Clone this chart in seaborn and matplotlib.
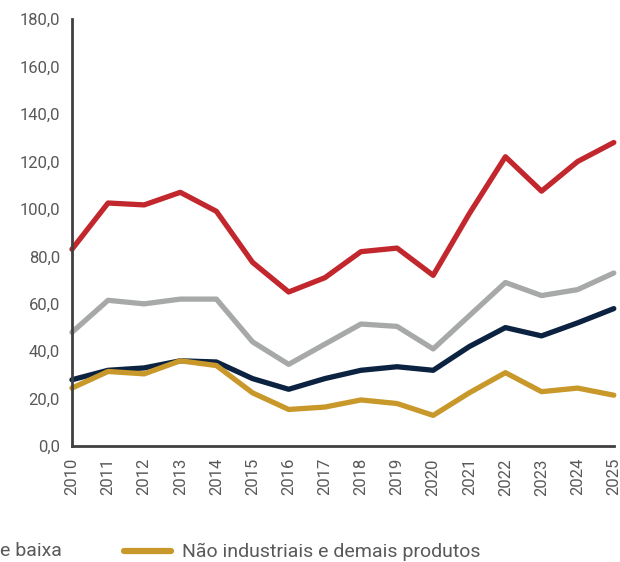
"""
Recreate the export-index line chart (2010-2025) with seaborn.
"""

import matplotlib
matplotlib.use("Agg")
import matplotlib.pyplot as plt
from matplotlib.lines import Line2D
from matplotlib.ticker import FuncFormatter
import pandas as pd
import seaborn as sns

years = list(range(2010, 2026))

serie_vermelha = [83, 102.5, 101.7, 107, 99, 77.5, 65, 71, 82, 83.5, 72, 98, 122, 107.5, 120, 128]
serie_cinza = [48, 61.5, 60, 62, 62, 44, 34.5, 43, 51.5, 50.5, 41, 55, 69, 63.5, 66, 73]
serie_azul = [28, 32, 33, 36, 35.5, 28.5, 24, 28.5, 32, 33.5, 32, 42, 50, 46.5, 52, 58]
serie_dourada = [24.5, 31.5, 30.5, 36, 34, 22.5, 15.5, 16.5, 19.5, 18, 13, 22.5, 31, 23, 24.5, 21.5]

series_names = ["vermelha", "cinza", "azul", "Não industriais e demais produtos"]
colors = ["#C1272D", "#A7A9A9", "#0B2341", "#C9982B"]

frames = []
for name, vals in zip(series_names, [serie_vermelha, serie_cinza, serie_azul, serie_dourada]):
    frames.append(pd.DataFrame({"ano": years, "valor": vals, "serie": name}))
df = pd.concat(frames, ignore_index=True)

sns.set_style("white")
plt.rcParams["font.family"] = ["Roboto", "DejaVu Sans"]

text_color = "#595959"
axis_color = "#404040"

fig = plt.figure(figsize=(6.2, 5.62), dpi=100)
ax = fig.add_axes([0.116, 0.206, 0.874, 0.760])

sns.lineplot(
    data=df, x="ano", y="valor", hue="serie", hue_order=series_names,
    palette=colors, linewidth=3.8, legend=False, ax=ax,
)
for line in ax.lines:
    line.set_solid_capstyle("round")
    line.set_solid_joinstyle("round")
    line.set_clip_on(False)

ax.set_xlim(2010, 2025)
ax.set_ylim(0, 180)
ax.set_yticks(range(0, 181, 20))
ax.set_xticks(years)
ax.yaxis.set_major_formatter(FuncFormatter(lambda v, _: f"{v:.1f}".replace(".", ",")))
ax.set_xlabel("")
ax.set_ylabel("")

sns.despine(ax=ax)
for side in ["left", "bottom"]:
    ax.spines[side].set_color(axis_color)
    ax.spines[side].set_linewidth(2)

ax.tick_params(axis="both", colors=axis_color, labelcolor=text_color,
               length=5, width=1.5, direction="out", labelsize=12)
ax.tick_params(axis="x", labelrotation=90)

# legend row (left part cropped in the original)
fig.text(0.0, 0.011, "e baixa", color=text_color, fontsize=14, va="baseline")
handle = Line2D([], [], color=colors[3], linewidth=4.5)
fig.legend(
    [handle], [series_names[3]], loc="lower left", bbox_to_anchor=(0.172, -0.03),
    frameon=False, fontsize=14, handlelength=2.4, handletextpad=0.6,
    labelcolor=text_color,
)

fig.savefig("out.png", dpi=100)
plt.close(fig)
